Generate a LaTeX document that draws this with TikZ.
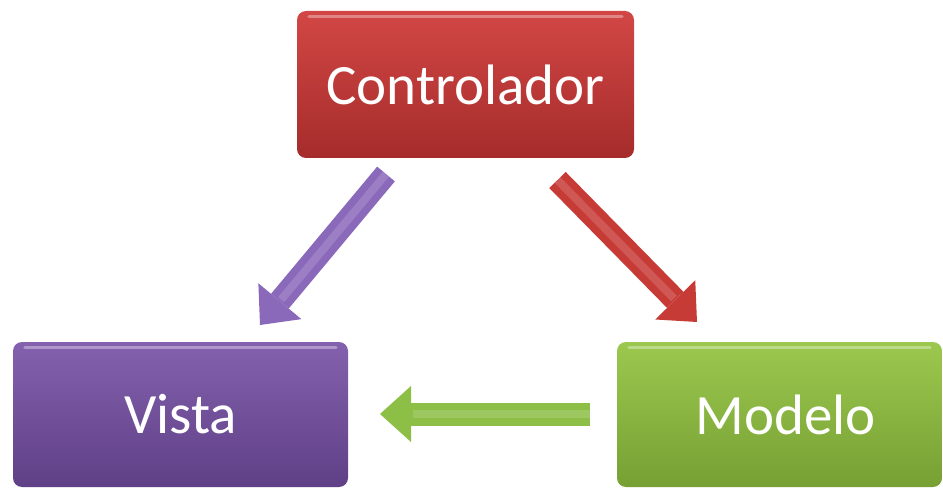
\documentclass[tikz,border=0pt]{standalone}
\usepackage{fontspec}
\setmainfont{Carlito}
\usetikzlibrary{arrows.meta}

% palette
\definecolor{ctrltop}{HTML}{D24745}
\definecolor{ctrlbot}{HTML}{A52C2B}
\definecolor{vistatop}{HTML}{8461AE}
\definecolor{vistabot}{HTML}{5F4086}
\definecolor{modtop}{HTML}{9CC84F}
\definecolor{modbot}{HTML}{76A033}
\definecolor{arrpurple}{HTML}{8A68BA}
\definecolor{arrred}{HTML}{C73B37}
\definecolor{arrgreen}{HTML}{8DBE46}

\begin{document}
\begin{tikzpicture}[x=1pt,y=-1pt,
  block/.style={rounded corners=9pt, inner sep=0pt, text=white,
    font=\fontsize{57}{60}\selectfont},
  gloss/.style={line width=3pt, line cap=round, white, opacity=0.35},
  fatarrow/.style={line width=23pt,
    -{Triangle[length=31pt,width=56pt,line width=0pt]}},
  arrowgloss/.style={line width=8pt, white, opacity=0.15, shorten >=33pt}
]
\useasboundingbox (0,0) rectangle (943,489);

% the three blocks
\node[block, minimum width=337pt, minimum height=147pt,
      top color=ctrltop, bottom color=ctrlbot] (ctrl) at (465.5,84.5) {Controlador};
\node[block, minimum width=335pt, minimum height=145pt,
      top color=vistatop, bottom color=vistabot] (vista) at (180.5,414.5) {Vista};
\node[block, minimum width=325pt, minimum height=145pt,
      top color=modtop, bottom color=modbot] (modelo) at (779.5,414.5) {\hspace*{12pt}Modelo};

% glossy rim near the top of each block
\foreach \b in {ctrl,vista,modelo}
  \draw[gloss] ([shift={(12pt,-6pt)}]\b.north west) -- ([shift={(-12pt,-6pt)}]\b.north east);

% arrow end points
\coordinate (cv1) at (386,174);
\coordinate (cv2) at (260,325);
\coordinate (cm1) at (557.5,180);
\coordinate (cm2) at (697,322);
\coordinate (mv1) at (590,414);
\coordinate (mv2) at (380,414);

% arrows
\draw[fatarrow, arrpurple] (cv1) -- (cv2);
\draw[fatarrow, arrred] (cm1) -- (cm2);
\draw[fatarrow, arrgreen] (mv1) -- (mv2);

\draw[arrowgloss] (cv1) -- (cv2);
\draw[arrowgloss] (cm1) -- (cm2);
\draw[arrowgloss] (mv1) -- (mv2);
\end{tikzpicture}
\end{document}
